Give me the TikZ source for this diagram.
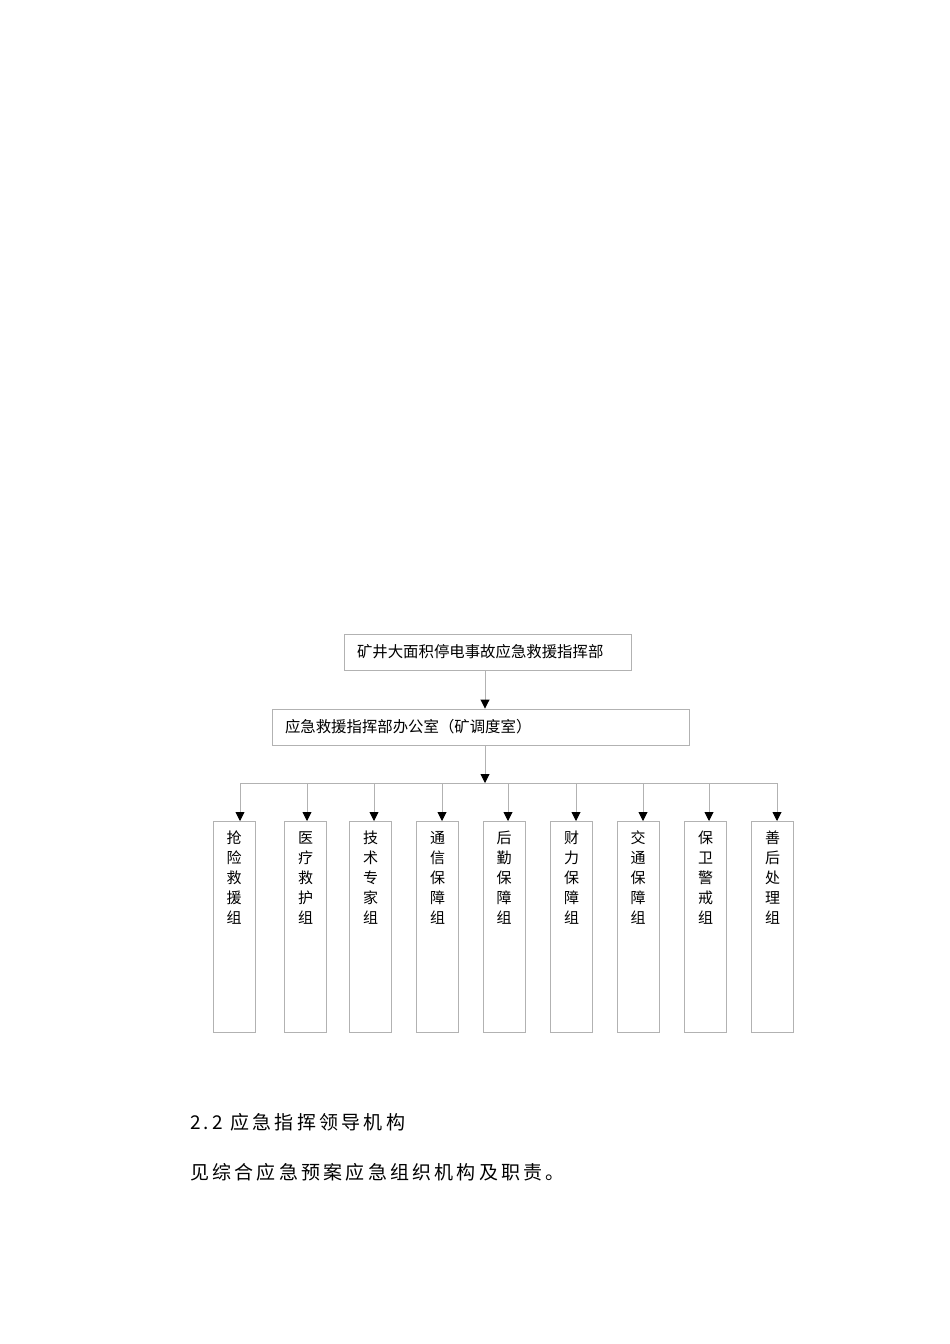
\documentclass[tikz,border=0pt]{standalone}
\usepackage{fontspec}
\newfontfamily\cjk{Noto Sans CJK SC}
\usetikzlibrary{arrows.meta,positioning}

\tikzset{
  headbox/.style={draw=black!30, line width=0.9pt, minimum height=36pt, inner xsep=13pt, inner ysep=0pt, align=left, font=\cjk\fontsize{15.4}{18}\selectfont},
  groupbox/.style={draw=black!30, line width=0.9pt, minimum width=42pt, minimum height=211pt, anchor=north, inner sep=0pt},
  grouplabel/.style={anchor=north, align=center, inner sep=0pt, font=\cjk\fontsize{15}{20}\selectfont},
  conn/.style={draw=black!30, line width=0.9pt},
  tip/.style={conn, -{Triangle[black, width=9pt, length=9pt]}},
  bodytext/.style={anchor=west, inner sep=0pt, font=\cjk\fontsize{19}{24}\selectfont\addfontfeature{LetterSpace=17}}
}

\begin{document}
\begin{tikzpicture}[x=1pt, y=-1pt]
\useasboundingbox[fill=white] (0,0) rectangle (950,1344);

%the two boxes at the top
\node[headbox, text width=261pt] (head) at (487.5,652) {矿井大面积停电事故应急救援指挥部};
\node[headbox, text width=391pt] (office) at (480.5,727) {应急救援指挥部办公室（矿调度室）};

\coordinate (spine) at (485,0);
\coordinate (bus) at (485,783);
\coordinate (busleft) at (240,783);
\coordinate (busright) at (777,783);

\draw[tip] (head.south -| spine) -- (office.north -| spine);
\draw[tip] (office.south -| spine) -- (bus);
\draw[conn] (busleft) -- (busright);

%the nine groups
\node[groupbox] (g1) at (234,821) {};
\node[groupbox] (g2) at (305.5,821) {};
\node[groupbox] (g3) at (370.5,821) {};
\node[groupbox] (g4) at (437.5,821) {};
\node[groupbox] (g5) at (504,821) {};
\node[groupbox] (g6) at (571.5,821) {};
\node[groupbox] (g7) at (638,821) {};
\node[groupbox] (g8) at (705.5,821) {};
\node[groupbox] (g9) at (772.5,821) {};

\node[grouplabel] (t1) at ([yshift=-10pt]g1.north) {抢\\险\\救\\援\\组};
\node[grouplabel] (t2) at ([yshift=-10pt]g2.north) {医\\疗\\救\\护\\组};
\node[grouplabel] (t3) at ([yshift=-10pt]g3.north) {技\\术\\专\\家\\组};
\node[grouplabel] (t4) at ([yshift=-10pt]g4.north) {通\\信\\保\\障\\组};
\node[grouplabel] (t5) at ([yshift=-10pt]g5.north) {后\\勤\\保\\障\\组};
\node[grouplabel] (t6) at ([yshift=-10pt]g6.north) {财\\力\\保\\障\\组};
\node[grouplabel] (t7) at ([yshift=-10pt]g7.north) {交\\通\\保\\障\\组};
\node[grouplabel] (t8) at ([yshift=-10pt]g8.north) {保\\卫\\警\\戒\\组};
\node[grouplabel] (t9) at ([yshift=-10pt]g9.north) {善\\后\\处\\理\\组};

%arrows from the bus line down to the groups
\coordinate (a1) at ([xshift=6pt]g1.north);
\coordinate (a2) at ([xshift=1.5pt]g2.north);
\coordinate (a3) at ([xshift=3.5pt]g3.north);
\coordinate (a4) at ([xshift=4.5pt]g4.north);
\coordinate (a5) at ([xshift=4pt]g5.north);
\coordinate (a6) at ([xshift=4.5pt]g6.north);
\coordinate (a7) at ([xshift=5pt]g7.north);
\coordinate (a8) at ([xshift=3.5pt]g8.north);
\coordinate (a9) at ([xshift=4.5pt]g9.north);
\draw[tip] (bus -| a1) -- (a1);
\draw[tip] (bus -| a2) -- (a2);
\draw[tip] (bus -| a3) -- (a3);
\draw[tip] (bus -| a4) -- (a4);
\draw[tip] (bus -| a5) -- (a5);
\draw[tip] (bus -| a6) -- (a6);
\draw[tip] (bus -| a7) -- (a7);
\draw[tip] (bus -| a8) -- (a8);
\draw[tip] (bus -| a9) -- (a9);

%text below the chart
\node[bodytext] (sec) at (190,1122) {2.2 应急指挥领导机构};
\node[bodytext] (see) at (190,1172) {见综合应急预案应急组织机构及职责。};

\end{tikzpicture}
\end{document}
